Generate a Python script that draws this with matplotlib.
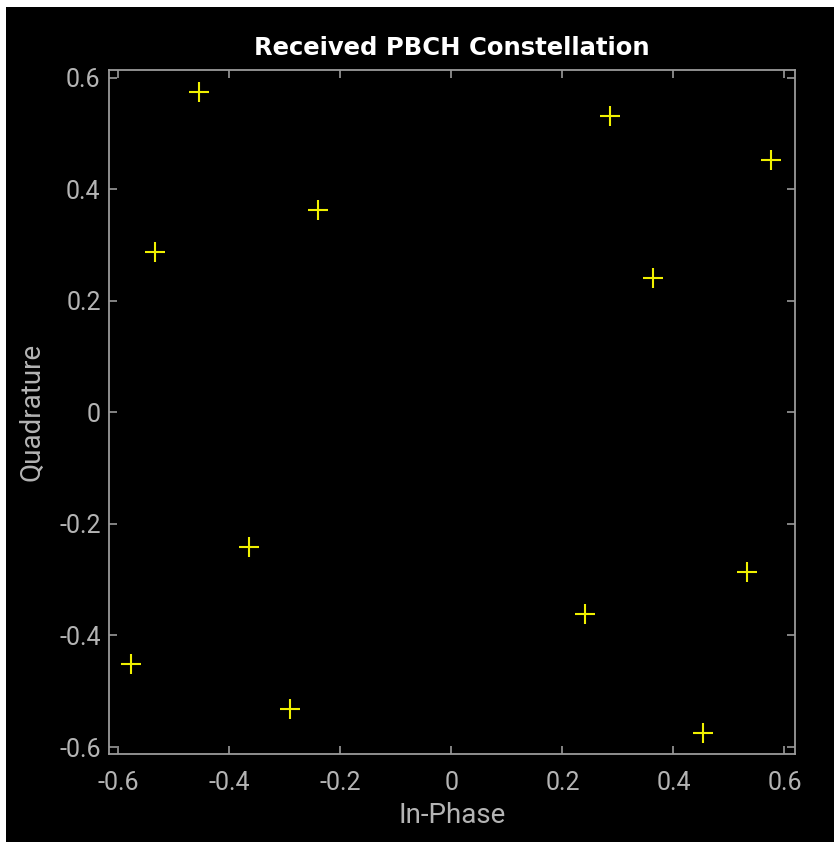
import matplotlib
matplotlib.use("Agg")
import matplotlib.pyplot as plt
from matplotlib.patches import Rectangle
import numpy as np

# constellation points
in_phase = [-0.454, 0.286, 0.575, -0.241, -0.535, 0.364,
            -0.364, 0.532, 0.241, -0.577, -0.290, 0.454]
quadrature = [0.575, 0.532, 0.453, 0.363, 0.288, 0.241,
              -0.241, -0.286, -0.361, -0.451, -0.532, -0.575]

tick_vals = [-0.6, -0.4, -0.2, 0, 0.2, 0.4, 0.6]
tick_labels = ["-0.6", "-0.4", "-0.2", "0", "0.2", "0.4", "0.6"]

edge = "#9a9a9a"
txt = "#b4b4b4"

fig = plt.figure(figsize=(8.34, 8.42), dpi=100, facecolor="white")
fig.patches.append(Rectangle((6 / 834, 0), 1 - 6 / 834, 1 - 7 / 842,
                             transform=fig.transFigure, facecolor="black",
                             edgecolor="none", zorder=-10))

ax = fig.add_axes([109 / 834, 1 - 754 / 842, 686 / 834, 684 / 842])
ax.set_facecolor("black")
ax.plot(in_phase, quadrature, linestyle="none", marker="+", markersize=14,
        markeredgewidth=1.5, color="#f0f000")

ax.set_xlim(-0.617, 0.619)
ax.set_ylim(-0.6125, 0.614)
ax.set_xticks(tick_vals)
ax.set_xticklabels(tick_labels)
ax.set_yticks(tick_vals)
ax.set_yticklabels(tick_labels)

for s in ax.spines.values():
    s.set_color(edge)
    s.set_linewidth(1.3)
ax.tick_params(direction="in", length=6, width=1.2, color=edge,
               labelcolor=txt, labelsize=18, top=True, right=True, pad=6)
ax.tick_params(axis="x", pad=12)
for lab in ax.get_xticklabels() + ax.get_yticklabels():
    lab.set_fontfamily("Roboto")

ax.set_xlabel("In-Phase", color=txt, fontsize=20, fontfamily="Roboto", labelpad=5)
ax.set_ylabel("Quadrature", color=txt, fontsize=20, fontfamily="Roboto", labelpad=10)
ax.set_title("Received PBCH Constellation", color="white", fontsize=17.5,
             fontweight="bold", fontfamily="DejaVu Sans", pad=11)

plt.savefig("out.png", dpi=100, facecolor=fig.get_facecolor())
plt.close()
